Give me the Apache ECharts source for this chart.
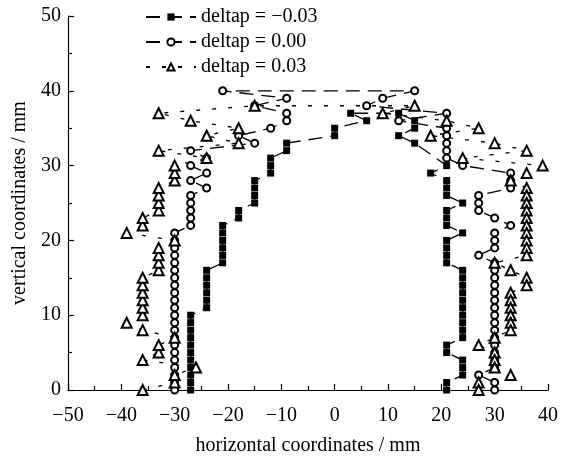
<!DOCTYPE html>
<html>
<head>
<meta charset="utf-8">
<script src="https://cdn.jsdelivr.net/npm/echarts@6/dist/echarts.min.js"></script>
<style>
  html, body { margin: 0; padding: 0; background: #fff; }
  #chart { width: 569px; height: 461px; }
</style>
</head>
<body>
<div id="chart"></div>
<script>
  // 图例名称
  const seriesNames = ['deltap = −0.03', 'deltap = 0.00', 'deltap = 0.03']

  // deltap = -0.03 (实心方块): 左侧自下而上, 顶部, 右侧自上而下
  const sqX = [-27, -27, -27, -27, -27, -27, -27, -27, -27, -27, -27,
    -24, -24, -24, -24, -24, -24, -21, -21, -21, -21, -21, -21,
    -18, -18, -15, -15, -15, -15, -12, -12, -12, -9, -9, 0, 0,
    6, 3, 12, 15, 15, 12, 15,
    21, 18, 21, 21, 21, 24, 21, 21, 21, 24, 21, 21, 21, 21,
    24, 24, 24, 24, 24, 24, 24, 24, 24, 24, 21, 21, 24, 24, 24, 21, 21]
  const sqY = [0, 1, 2, 3, 4, 5, 6, 7, 8, 9, 10,
    11, 12, 13, 14, 15, 16, 17, 18, 19, 20, 21, 22,
    23, 24, 25, 26, 27, 28, 29, 30, 31, 32, 33, 34, 35,
    36, 37, 37, 36, 35, 34, 33,
    30, 29, 28, 27, 26, 25, 24, 23, 22, 21, 20, 19, 18, 17,
    16, 15, 14, 13, 12, 11, 10, 9, 8, 7, 6, 5, 4, 3, 2, 1, 0]

  // deltap = 0.00 (空心圆)
  const ciX = [-30, -30, -30, -30, -30, -30, -30, -30, -30, -30, -30,
    -30, -30, -30, -30, -30, -30, -30, -30, -30, -30, -30,
    -27, -27, -27, -27, -27, -24, -27, -24, -27, -24, -27,
    -15, -18, -12, -9, -9, -15, -9, -21,
    15, 9, 6, 21, 12,
    21, 21, 21, 21, 21, 24, 33, 33, 33, 27, 27, 27, 30, 33, 30, 30, 30, 27, 30,
    30, 30, 30, 30, 30, 30, 30, 30, 30, 30, 30, 30, 30, 30, 27, 30, 30]
  const ciY = [0, 1, 2, 3, 4, 5, 6, 7, 8, 9, 10,
    11, 12, 13, 14, 15, 16, 17, 18, 19, 20, 21,
    22, 23, 24, 25, 26, 27, 28, 29, 30, 31, 32,
    33, 34, 35, 36, 37, 38, 39, 40,
    40, 39, 38, 37, 36,
    35, 34, 33, 32, 31, 30, 29, 28, 27, 26, 25, 24, 23, 22, 21, 20, 19, 18, 17,
    16, 15, 14, 13, 12, 11, 10, 9, 8, 7, 6, 5, 4, 3, 2, 1, 0]

  // deltap = 0.03 (空心三角)
  const trX = [-36, -30, -30, -26, -36, -33, -33, -30, -36, -39,
    -36, -36, -36, -36, -36, -36, -33, -33, -33, -33, -30, -39,
    -36, -36, -33, -33, -33, -33, -30, -30, -30, -24, -33, -18, -24, -18, -27, -33, -15,
    15, 9, 21, 27, 18, 30, 36, 24, 39, 36, 33,
    36, 36, 36, 36, 36, 36, 36, 36, 36, 36, 30, 33, 36, 36,
    33, 33, 33, 33, 33, 33, 30, 27, 30, 30, 30, 33, 27, 27]
  const trY = [0, 1, 2, 3, 4, 5, 6, 7, 8, 9,
    10, 11, 12, 13, 14, 15, 16, 17, 18, 19, 20, 21,
    22, 23, 24, 25, 26, 27, 28, 29, 30, 31, 32, 33, 34, 35, 36, 37, 38,
    38, 37, 36, 35, 34, 33, 32, 31, 30, 29, 28,
    27, 26, 25, 24, 23, 22, 21, 20, 19, 18, 17, 16, 15, 14,
    13, 12, 11, 10, 9, 8, 7, 6, 5, 4, 3, 2, 1, 0]

  const zip = (xs, ys) => xs.map((x, i) => [x, ys[i]])

  const fontFamily = '"Liberation Serif", "Times New Roman", serif'
  const minus = v => String(v).replace('-', '−')

  const chartInstance = echarts.init(document.getElementById('chart'), null, { renderer: 'canvas' })

  const axisCommon = {
    axisTick: { inside: true, length: 6, lineStyle: { color: '#000', width: 1.2 } },
    minorTick: { show: true, splitNumber: 2, length: 4, lineStyle: { color: '#000', width: 1.2 } },
    splitLine: { show: false },
    nameTextStyle: { color: '#000', fontFamily: fontFamily, fontSize: 20 }
  }

  const option = {
    backgroundColor: '#fff',
    animation: false,
    grid: { left: 68, right: 21, top: 16, bottom: 67 },
    legend: {
      orient: 'vertical',
      left: 140,
      top: 2,
      itemWidth: 50,
      itemHeight: 9,
      itemGap: 5,
      textStyle: { color: '#000', fontFamily: fontFamily, fontSize: 20, lineHeight: 20 },
      data: seriesNames
    },
    xAxis: Object.assign({}, axisCommon, {
      type: 'value',
      min: -50,
      max: 40,
      interval: 10,
      name: 'horizontal coordinates / mm',
      nameLocation: 'middle',
      nameGap: 46,
      axisLine: { onZero: false, lineStyle: { color: '#000', width: 1.2 } },
      axisLabel: { color: '#000', fontFamily: fontFamily, fontSize: 20, margin: 16, formatter: minus }
    }),
    yAxis: Object.assign({}, axisCommon, {
      type: 'value',
      min: 0,
      max: 50,
      interval: 10,
      name: 'vertical coordinates / mm',
      nameLocation: 'middle',
      nameGap: 38,
      axisLine: { onZero: false, lineStyle: { color: '#000', width: 1.2 } },
      axisLabel: { color: '#000', fontFamily: fontFamily, fontSize: 20, margin: 7, formatter: minus }
    }),
    series: [
      {
        name: seriesNames[0],
        type: 'line',
        data: zip(sqX, sqY),
        symbol: 'rect',
        symbolSize: 7,
        showAllSymbol: true,
        itemStyle: { color: '#000' },
        lineStyle: { color: '#000', width: 1.3, type: [14, 8] }
      },
      {
        name: seriesNames[1],
        type: 'line',
        data: zip(ciX, ciY),
        symbol: 'emptyCircle',
        symbolSize: 7,
        showAllSymbol: true,
        itemStyle: { color: '#000', borderWidth: 1.2 },
        lineStyle: { color: '#000', width: 1.3, type: [14, 8] }
      },
      {
        name: seriesNames[2],
        type: 'line',
        data: zip(trX, trY),
        symbol: 'emptyTriangle',
        symbolSize: 10,
        showAllSymbol: true,
        itemStyle: { color: '#000', borderWidth: 1.3 },
        lineStyle: { color: '#000', width: 1.3, type: [4, 12] }
      }
    ]
  }
  chartInstance.setOption(option)
</script>
</body>
</html>
